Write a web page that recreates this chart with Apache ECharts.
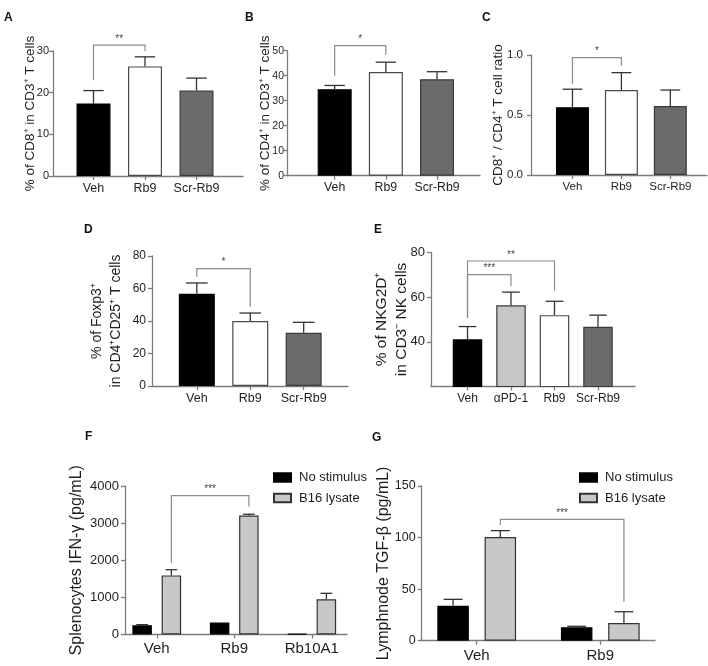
<!DOCTYPE html>
<html><head><meta charset="utf-8">
<script src="https://cdn.jsdelivr.net/npm/echarts@6/dist/echarts.min.js"></script>
<style>html,body{margin:0;padding:0;background:#fff}#c{width:708px;height:666px}</style>
</head><body><div id="c"></div>
<script>
const FONT = "'Liberation Sans', Arial, Helvetica, sans-serif";
const TXT = '#1e1e1e', AXC = '#7c7c7c', ERR = '#333333', BRK = '#8c8c8c';

// ---------- Panel A ----------
const catsA = ['Veh', 'Rb9', 'Scr-Rb9'];
const meanA = [17.4, 26.3, 20.5];
const semA = [3.1, 2.3, 3.0];
const ticksA = [0, 10, 20, 30];
const sigA = [[0, 1, 31.4, 23, 30, '**']]; // from, to, bracket y, left foot, right foot, label

// ---------- Panel B ----------
const catsB = ['Veh', 'Rb9', 'Scr-Rb9'];
const meanB = [34.6, 41.5, 38.6];
const semB = [1.5, 3.9, 3.0];
const ticksB = [0, 10, 20, 30, 40, 50];
const sigB = [[0, 1, 52, 40, 48.3, '*']];

// ---------- Panel C ----------
const catsC = ['Veh', 'Rb9', 'Scr-Rb9'];
const meanC = [0.565, 0.708, 0.575];
const semC = [0.15, 0.145, 0.133];
const ticksC = [0, 0.5, 1.0];
const sigC = [[0, 1, 0.978, 0.76, 0.91, '*']];

// ---------- Panel D ----------
const catsD = ['Veh', 'Rb9', 'Scr-Rb9'];
const meanD = [56.8, 40.0, 32.8];
const semD = [6.6, 4.9, 6.4];
const ticksD = [0, 20, 40, 60, 80];
const sigD = [[0, 1, 72.2, 67.3, 48.8, '*']];

// ---------- Panel E ----------
const catsE = ['Veh', 'αPD-1', 'Rb9', 'Scr-Rb9'];
const meanE = [41.1, 56.3, 51.9, 46.7];
const semE = [5.7, 5.9, 6.2, 5.2];
const ticksE = [40, 60, 80];
const minE = 20;
const sigE = [[0, 1, 70.0, 50.6, 64.9, '***'], [0, 2, 76.1, 50.6, 62.8, '**']];

// ---------- Panel F ----------
const catsF = ['Veh', 'Rb9', 'Rb10A1'];
const noStimF = [250, 322, 20];
const noStimSemF = [15, 0, 0];
const b16F = [1592, 3203, 948];
const b16SemF = [153, 37, 161];
const ticksF = [0, 1000, 2000, 3000, 4000];
const sigF = [[0, 1, 1, 1, 3740, 1925, 3445, '***']]; // fromCat, fromSeries, toCat, toSeries, y, footL, footR, label

// ---------- Panel G ----------
const catsG = ['Veh', 'Rb9'];
const noStimG = [33.9, 13.0];
const noStimSemG = [6.2, 1.0];
const b16G = [100.6, 17.2];
const b16SemG = [6.1, 10.9];
const ticksG = [0, 50, 100, 150];
const sigG = [[0, 1, 1, 1, 117.7, 112.2, 37.8, '***']];

const seriesNames = ['No stimulus', 'B16 lysate'];

const grids = [], xAxes = [], yAxes = [], series = [], legends = [], graphics = [];

function panel(p) {
  const min = (p.min != null) ? p.min : p.ticks[0];
  const max = p.ticks[p.ticks.length - 1];
  const interval = p.ticks[1] - p.ticks[0];
  const height = p.y0 - p.top;
  // frame grid (axis lines + y ticks)
  const gF = grids.length;
  grids.push({left: p.ax, top: p.top, width: p.xEnd - p.ax, height: height, containLabel: false, outerBoundsMode: 'none'});
  xAxes.push({gridIndex: gF, type: 'value', min: 0, max: 1,
    axisLine: {show: true, lineStyle: {color: AXC, width: 1.3}},
    axisTick: {show: false}, axisLabel: {show: false}, splitLine: {show: false}});
  const yTick = {show: true, length: p.tickLen || 4, lineStyle: {color: AXC, width: 1.3}};
  const yLab = {fontSize: p.tickFont, color: TXT, fontFamily: FONT, margin: p.labMargin || 6,
    formatter: p.fmt || (v => String(v))};
  if (p.min != null) { yTick.customValues = p.ticks; yLab.customValues = p.ticks; }
  yAxes.push({gridIndex: gF, type: 'value', min: min, max: max, interval: interval,
    axisLine: {show: true, lineStyle: {color: AXC, width: 1.3}},
    axisTick: yTick, axisLabel: yLab, splitLine: {show: false},
    name: p.name, nameLocation: 'middle', nameGap: p.nameGap, nameMoveOverlap: false,
    nameTextStyle: {fontSize: p.nameFont, color: TXT, fontFamily: FONT, lineHeight: p.nameLH || p.nameFont * 1.2}});
  // data grid
  const gD = grids.length;
  grids.push({left: p.dl, top: p.top, width: p.dr - p.dl, height: height, containLabel: false, outerBoundsMode: 'none'});
  xAxes.push({gridIndex: gD, type: 'category', data: p.cats, boundaryGap: true,
    axisLine: {show: false},
    axisTick: {show: true, alignWithLabel: true, length: 4, lineStyle: {color: AXC, width: 1.3}},
    axisLabel: {fontSize: p.catFont, color: TXT, fontFamily: FONT, margin: p.catMargin || 6, interval: 0},
    splitLine: {show: false}});
  yAxes.push({gridIndex: gD, type: 'value', min: min, max: max, show: false});
  const xi = xAxes.length - 1, yi = yAxes.length - 1;
  const bw = p.bw;
  const grouped = !!p.groups;
  const groups = grouped ? p.groups : [{mean: p.mean, sem: p.sem}];
  const offs = grouped ? [-0.75 * bw, 0.75 * bw] : [0];
  groups.forEach((g, si) => {
    const bar = {type: 'bar', xAxisIndex: xi, yAxisIndex: yi, barWidth: bw, silent: true, animation: false, z: 2};
    if (grouped) {
      bar.name = g.name; bar.barGap = '50%';
      bar.itemStyle = {color: g.fill, borderColor: g.border, borderWidth: 1.2};
      bar.data = g.mean.slice();
    } else {
      bar.data = g.mean.map((v, i) => ({value: v, itemStyle: {color: p.fills[i], borderColor: p.borders[i], borderWidth: 1.2}}));
    }
    series.push(bar);
    const off = offs[si];
    series.push({type: 'custom', xAxisIndex: xi, yAxisIndex: yi, clip: false, silent: true, animation: false, z: 3,
      encode: {x: 0, y: [1, 2]},
      data: g.mean.map((v, i) => [i, v, v + g.sem[i]]),
      renderItem: (params, api) => {
        const lo = api.value(1), hi = api.value(2);
        if (!(hi > lo + 1e-9)) return null;
        const a = api.coord([api.value(0), lo]);
        const b = api.coord([api.value(0), hi]);
        const x = a[0] + off, h = bw * 0.3;
        return {type: 'group', children: [
          {type: 'line', shape: {x1: x, y1: a[1], x2: x, y2: b[1]}, style: {stroke: ERR, lineWidth: 1.3}},
          {type: 'line', shape: {x1: x - h, y1: b[1], x2: x + h, y2: b[1]}, style: {stroke: ERR, lineWidth: 1.3}}
        ]};
      }});
  });
  // significance brackets
  const sig = p.sig.map(s => grouped
    ? {fc: s[0], fs: s[1], tc: s[2], ts: s[3], y: s[4], fl: s[5], fr: s[6], t: s[7]}
    : {fc: s[0], fs: 0, tc: s[1], ts: 0, y: s[2], fl: s[3], fr: s[4], t: s[5]});
  series.push({type: 'custom', xAxisIndex: xi, yAxisIndex: yi, clip: false, silent: true, animation: false, z: 4,
    encode: {x: 0, y: 1},
    data: sig.map(s => [s.fc, s.y]),
    renderItem: (params, api) => {
      const s = sig[params.dataIndex];
      const pTop1 = api.coord([s.fc, s.y]), pTop2 = api.coord([s.tc, s.y]);
      const pL = api.coord([s.fc, s.fl]), pR = api.coord([s.tc, s.fr]);
      const x1 = pTop1[0] + offs[s.fs], x2 = pTop2[0] + offs[s.ts];
      const y = pTop1[1];
      return {type: 'group', children: [
        {type: 'polyline', shape: {points: [[x1, pL[1]], [x1, y], [x2, y], [x2, pR[1]]]},
          style: {stroke: BRK, lineWidth: 1.2, fill: null}},
        {type: 'text', style: {text: s.t, x: (x1 + x2) / 2, y: y - 1, align: 'center', verticalAlign: 'bottom',
          fontSize: p.starFont || 10, fill: '#444', fontFamily: FONT}}
      ]};
    }});
  if (grouped) {
    legends.push({left: p.legLeft, top: p.legTop, orient: 'vertical', padding: 0, itemWidth: 17, itemHeight: 8.5, itemGap: 6.5,
      icon: 'rect', selectedMode: false, data: p.groups.map(g => g.name),
      textStyle: {fontSize: 13, color: TXT, fontFamily: FONT, lineHeight: 14, padding: [0, 0, 0, 3]}});
  }
  graphics.push({type: 'text', left: p.lab[0], top: p.lab[1], style: {text: p.letter, font: 'bold 12px ' + FONT, fill: '#111'}});
}

const grayFills = ['#000000', '#ffffff', '#6b6b6b'];
const grayBorders = ['#000000', '#4a4a4a', '#3a3a3a'];

panel({letter: 'A', lab: [4, 12], cats: catsA, mean: meanA, sem: semA, ticks: ticksA, sig: sigA,
  ax: 53, top: 51, y0: 176, xEnd: 243, dl: 67.75, dr: 222.25, bw: 34, labMargin: 4,
  tickFont: 11, catFont: 12.5, name: '% of CD8⁺ in CD3⁺ T cells', nameFont: 13.5, nameGap: 15,
  fills: grayFills, borders: grayBorders});
panel({letter: 'B', lab: [245, 12], cats: catsB, mean: meanB, sem: semB, ticks: ticksB, sig: sigB,
  ax: 287, top: 50.7, y0: 175.7, xEnd: 480, dl: 309.1, dr: 462.6, bw: 34, tickLen: 3, labMargin: 3,
  tickFont: 10.5, catFont: 12.3, name: '% of CD4⁺ in CD3⁺ T cells', nameFont: 13.5, nameGap: 14,
  fills: grayFills, borders: grayBorders});
panel({letter: 'C', lab: [482, 12], cats: catsC, mean: meanC, sem: semC, ticks: ticksC, sig: sigC,
  ax: 531, top: 55, y0: 175, xEnd: 707, dl: 548, dr: 694.8, bw: 33, fmt: v => v.toFixed(1), labMargin: 8,
  tickFont: 11.5, catFont: 11.5, name: 'CD8⁺ / CD4⁺ T cell ratio', nameFont: 13.5, nameGap: 25,
  fills: grayFills, borders: grayBorders});
panel({letter: 'D', lab: [84, 224], cats: catsD, mean: meanD, sem: semD, ticks: ticksD, sig: sigD,
  ax: 152, top: 256, y0: 386, xEnd: 348, dl: 170.1, dr: 330.4, bw: 36,
  tickFont: 12, catFont: 12.5, name: '% of Foxp3⁺\nin CD4⁺CD25⁺ T cells', nameFont: 14, nameLH: 18.5, nameGap: 27,
  fills: grayFills, borders: grayBorders});
panel({letter: 'E', lab: [374, 224], cats: catsE, mean: meanE, sem: semE, ticks: ticksE, min: minE, sig: sigE,
  ax: 431, top: 252.3, y0: 386.5, xEnd: 635, dl: 445.75, dr: 619.75, bw: 29.5,
  tickFont: 13, catFont: 12, name: '% of NKG2D⁺\nin CD3⁻ NK cells', nameFont: 15.5, nameLH: 20, nameGap: 19,
  fills: ['#000000', '#c6c6c6', '#ffffff', '#6b6b6b'], borders: ['#000000', '#3a3a3a', '#4a4a4a', '#3a3a3a']});
panel({letter: 'F', lab: [85, 431], cats: catsF, ticks: ticksF, sig: sigF,
  groups: [
    {name: seriesNames[0], mean: noStimF, sem: noStimSemF, fill: '#000000', border: '#000000'},
    {name: seriesNames[1], mean: b16F, sem: b16SemF, fill: '#c8c8c8', border: '#333333'}],
  ax: 125, top: 486, y0: 634.5, xEnd: 347, dl: 118, dr: 350.5, bw: 19.5, catMargin: 7,
  tickFont: 13, catFont: 15, name: 'Splenocytes IFN-γ (pg/mL)', nameFont: 16, nameGap: 39,
  legLeft: 273, legTop: 470.5});
panel({letter: 'G', lab: [372, 432], cats: catsG, ticks: ticksG, sig: sigG,
  groups: [
    {name: seriesNames[0], mean: noStimG, sem: noStimSemG, fill: '#000000', border: '#000000'},
    {name: seriesNames[1], mean: b16G, sem: b16SemG, fill: '#c8c8c8', border: '#333333'}],
  ax: 421.7, top: 486, y0: 640.7, xEnd: 655, dl: 414.9, dr: 662.1, bw: 31.5, catMargin: 8,
  tickFont: 12.5, catFont: 15, name: 'Lymphnode TGF-β (pg/mL)', nameFont: 16, nameGap: 29,
  legLeft: 579, legTop: 470.5});

const chart = echarts.init(document.getElementById('c'), null, {renderer: 'canvas'});
chart.setOption({
  backgroundColor: '#ffffff',
  animation: false,
  textStyle: {fontFamily: FONT},
  grid: grids, xAxis: xAxes, yAxis: yAxes, series: series, legend: legends, graphic: graphics
});
</script></body></html>
